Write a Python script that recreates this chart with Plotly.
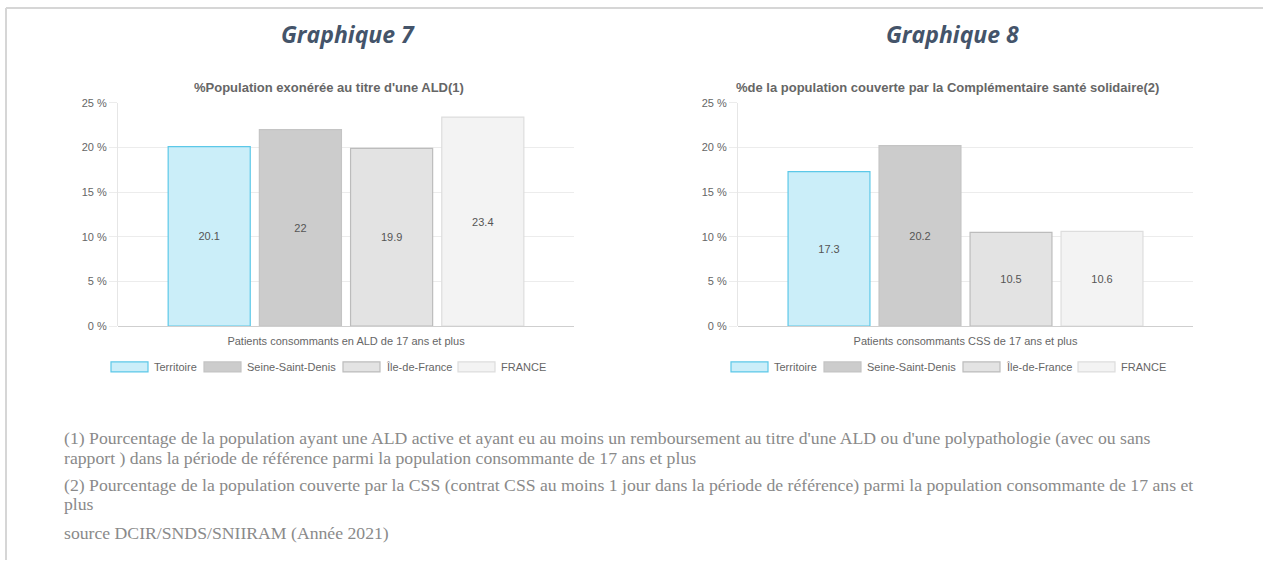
import plotly.graph_objects as go

W, H = 1263, 566

series = ["Territoire", "Seine-Saint-Denis", "Île-de-France", "FRANCE"]
fills = ["#cbeef9", "#cccccc", "#e3e3e3", "#f3f3f3"]
lines = ["#5cc8e8", "#c4c4c4", "#bcbcbc", "#dddddd"]

cat1 = ["Patients consommants en ALD de 17 ans et plus"]
vals1 = [20.1, 22, 19.9, 23.4]
cat2 = ["Patients consommants CSS de 17 ans et plus"]
vals2 = [17.3, 20.2, 10.5, 10.6]

title1 = "%Population exonérée au titre d'une ALD(1)"
title2 = "%de la population couverte par la Complémentaire santé solidaire(2)"
head1 = "Graphique 7"
head2 = "Graphique 8"

yticks = [0, 5, 10, 15, 20, 25]
ytext = [f"{v} %" for v in yticks]

notes = [
    "(1) Pourcentage de la population ayant une ALD active et ayant eu au moins un remboursement au titre d'une ALD ou d'une polypathologie (avec ou sans",
    "rapport ) dans la période de référence parmi la population consommante de 17 ans et plus",
    "(2) Pourcentage de la population couverte par la CSS (contrat CSS au moins 1 jour dans la période de référence) parmi la population consommante de 17 ans et",
    "plus",
    "source DCIR/SNDS/SNIIRAM (Année 2021)",
]
note_y = [437, 457, 484, 504, 533]


def px(x):
    return x / W


def py(y):
    # compensate for the vertical scaling observed in the capture
    return 1 - ((y - 3.9) / 0.982) / H


SMALL = dict(family="Liberation Sans, Arial", size=11, color="#666666")

fig = go.Figure()
for cats, vals, xa, ya in [(cat1, vals1, "x", "y"), (cat2, vals2, "x2", "y2")]:
    for i, s in enumerate(series):
        fig.add_trace(go.Bar(
            x=cats, y=[vals[i]], name=s, xaxis=xa, yaxis=ya,
            marker=dict(color=fills[i], line=dict(color=lines[i], width=1.2)),
            text=[f"{vals[i]:g}"], textposition="inside", insidetextanchor="middle",
            textangle=0, textfont=dict(family="Liberation Sans, Arial", size=11, color="#555555"),
            showlegend=False, hoverinfo="skip",
        ))

axis_common = dict(showgrid=False, showline=False, zeroline=False, ticks="", tickfont=SMALL,
                   ticklabelstandoff=7)
yaxis_common = dict(range=[0, 25], tickvals=yticks, ticktext=ytext, showgrid=True,
                    gridcolor="#ececec", gridwidth=1, zeroline=True, zerolinecolor="#cfcfcf",
                    zerolinewidth=1, showline=True, linecolor="#e6e6e6", ticks="outside",
                    ticklen=8, tickcolor="#ececec", tickfont=SMALL)

ydom = [py(325), py(101)]
fig.update_layout(
    width=W, height=H, margin=dict(l=0, r=0, t=0, b=0),
    paper_bgcolor="white", plot_bgcolor="white",
    bargap=0.2, bargroupgap=0.1, barmode="group",
    xaxis=dict(domain=[px(118), px(574)], anchor="y", **axis_common),
    yaxis=dict(domain=ydom, anchor="x", **yaxis_common),
    xaxis2=dict(domain=[px(738), px(1193)], anchor="y2", **axis_common),
    yaxis2=dict(domain=ydom, anchor="x2", **yaxis_common),
)

ann = []
shapes = []
shapes.append(dict(type="line", xref="paper", yref="paper", x0=px(6), x1=1, y0=py(6), y1=py(6),
                   line=dict(color="#d6d6d6", width=2)))
shapes.append(dict(type="line", xref="paper", yref="paper", x0=px(6), x1=px(6), y0=py(6), y1=0,
                   line=dict(color="#d6d6d6", width=2)))

for cx, txt in [(348, head1), (952, head2)]:
    ann.append(dict(xref="paper", yref="paper", x=px(cx), y=py(32), text=f"<b><i>{txt}</i></b>",
                    showarrow=False, xanchor="center", yanchor="middle",
                    font=dict(family="Open Sans", size=23, color="#44546a")))
for cx, txt in [(329, title1), (947, title2)]:
    ann.append(dict(xref="paper", yref="paper", x=px(cx), y=py(86), text=f"<b>{txt}</b>",
                    showarrow=False, xanchor="center", yanchor="middle",
                    font=dict(family="Liberation Sans, Arial", size=13, color="#666666")))

box_x = [111, 204, 343, 458]
for off in [0, 620]:
    for i, s in enumerate(series):
        x0 = box_x[i] + off
        shapes.append(dict(type="rect", xref="paper", yref="paper", x0=px(x0), x1=px(x0 + 37),
                           y0=py(371), y1=py(361), fillcolor=fills[i],
                           line=dict(color=lines[i], width=1.2)))
        ann.append(dict(xref="paper", yref="paper", x=px(x0 + 41), y=py(366), text=s,
                        showarrow=False, xanchor="left", yanchor="middle", font=SMALL))

for t, yy in zip(notes, note_y):
    ann.append(dict(xref="paper", yref="paper", x=px(62), y=py(yy), text=t,
                    showarrow=False, xanchor="left", yanchor="middle",
                    font=dict(family="Liberation Serif, Times New Roman", size=17.7, color="#8a8a8a")))

fig.update_layout(annotations=ann, shapes=shapes)
fig.write_html("out.html", config={"displayModeBar": False},
               post_script="document.body.style.margin='0';document.body.style.overflow='hidden';")
